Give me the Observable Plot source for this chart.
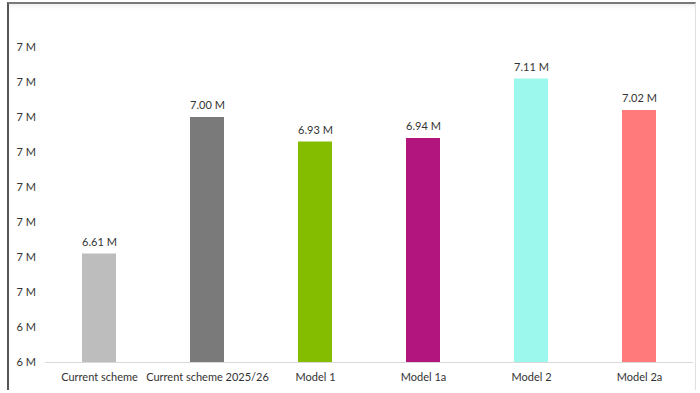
<!DOCTYPE html>
<html>
<head>
<meta charset="utf-8">
<script src="https://cdn.jsdelivr.net/npm/d3@7"></script>
<script src="https://cdn.jsdelivr.net/npm/@observablehq/plot@0.6"></script>
<style>
  html, body { margin: 0; padding: 0; background: #fff; }
  #wrap { position: relative; width: 700px; height: 393px; overflow: hidden; }
  #frame { position: absolute; left: 7px; top: 2px; width: 689px; height: 388px;
           border-top: 2px solid #7a7a7a; border-left: 2px solid #555; border-right: 1px solid #e0e0e0;
           box-shadow: inset 0 4px 4px -2px #eee; box-sizing: border-box; pointer-events: none; }
  #chart { position: absolute; left: 0; top: 0; }
</style>
</head>
<body>
<div id="wrap"><div id="chart"></div><div id="frame"></div></div>
<script>
const categories = ["Current scheme", "Current scheme 2025/26", "Model 1", "Model 1a", "Model 2", "Model 2a"];
const values = [6.61, 7.00, 6.93, 6.94, 7.11, 7.02];
const valueLabels = ["6.61 M", "7.00 M", "6.93 M", "6.94 M", "7.11 M", "7.02 M"];
const colors = ["#bdbdbd", "#7a7a7a", "#84bc00", "#b2157e", "#9cf7ec", "#ff7b7b"];
const tickValues = [6.3, 6.4, 6.5, 6.6, 6.7, 6.8, 6.9, 7.0, 7.1, 7.2];
const tickLabels = ["6 M", "6 M", "7 M", "7 M", "7 M", "7 M", "7 M", "7 M", "7 M", "7 M"];

const data = categories.map((c, i) => ({cat: c, value: values[i], label: valueLabels[i], color: colors[i]}));
const yMin = tickValues[0];

const chart = Plot.plot({
  width: 700,
  height: 393,
  marginTop: 47,
  marginBottom: 31,
  marginLeft: 45,
  marginRight: 7,
  style: {fontFamily: "Lato, 'Open Sans', sans-serif", fontSize: "11px", color: "#333", background: "transparent"},
  x: {domain: categories, paddingInner: 0.685, paddingOuter: 0.3425, label: null},
  y: {domain: [tickValues[0], tickValues[tickValues.length - 1]], label: null},
  color: {type: "identity"},
  marks: [
    Plot.barY(data, {x: "cat", y1: yMin, y2: "value", fill: "color"}),
    Plot.ruleY([yMin], {stroke: "#d9d9d9", strokeWidth: 1}),
    Plot.text(data, {x: "cat", y: "value", text: "label", dy: -12, fill: "#333", fontSize: 11}),
    Plot.axisY({ticks: tickValues, tickFormat: (d, i) => tickLabels[i], tickSize: 0, tickPadding: 29, textAnchor: "start", fill: "#333", fontSize: 11, label: null}),
    Plot.axisX({tickSize: 0, tickPadding: 11, fill: "#333", fontSize: 11, label: null})
  ]
});
document.getElementById("chart").appendChild(chart);
</script>
</body>
</html>
